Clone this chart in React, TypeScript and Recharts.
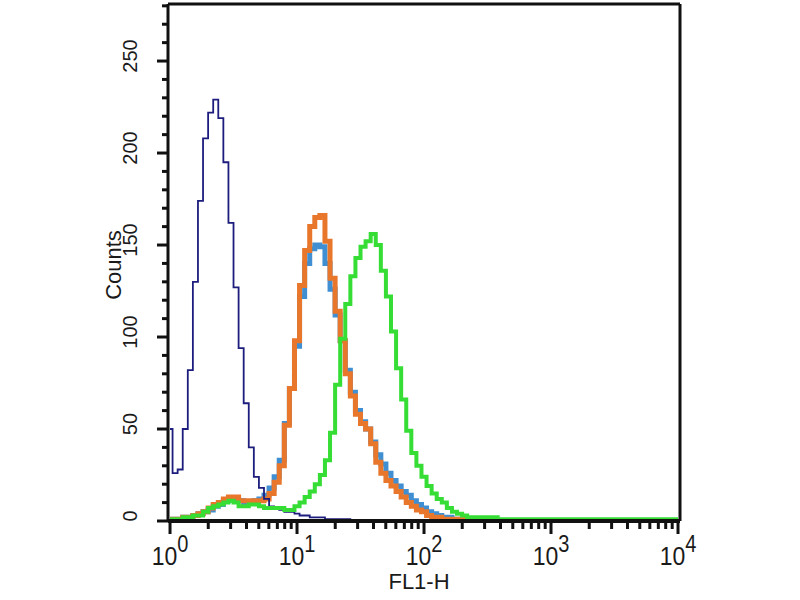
import { LineChart, Line, XAxis, YAxis, ReferenceLine, Label } from "recharts";

// bin positions in decades (log10 of FL1-H)
const binLog = [
  0, 0.04, 0.08, 0.12, 0.16, 0.2, 0.24, 0.28, 0.32, 0.36,
  0.4, 0.44, 0.48, 0.52, 0.56, 0.6, 0.64, 0.68, 0.72, 0.76,
  0.8, 0.84, 0.88, 0.92, 0.96, 1.0, 1.04, 1.08, 1.12, 1.16,
  1.2, 1.24, 1.28, 1.32, 1.36, 1.4, 1.44, 1.48, 1.52, 1.56,
  1.6, 1.64, 1.68, 1.72, 1.76, 1.8, 1.84, 1.88, 1.92, 1.96,
  2.0, 2.04, 2.08, 2.12, 2.16, 2.2, 2.24, 2.28, 2.32, 2.36,
  2.4, 2.44, 2.48, 2.52, 2.56, 2.6,
  2.8, 3.0, 3.2, 3.4, 3.6, 3.8, 4.0,
];

const navyCounts = [
  50, 26, 28, 50, 82, 130, 174, 208, 222, 229,
  219, 195, 162, 127, 94, 64, 40, 24, 18, 12,
  8, 7, 6, 5, 5, 4, 3, 3, 2, 2,
  2, 1, 1, 1, 1, 1, 0, 0, 0, 0,
  0, 0, 0, 0, 0, 0, 0, 0, 0, 0,
  0, 0, 0, 0, 0, 0, 0, 0, 0, 0,
  0, 0, 0, 0, 0, 0,
  0, 0, 0, 0, 0, 0, 0,
];

const blueCounts = [
  0, 1, 1, 2, 2, 3, 4, 5, 6, 8,
  9, 11, 12, 12, 11, 10, 10, 11, 12, 14,
  18, 24, 33, 53, 72, 95, 122, 140, 148, 150,
  149, 140, 126, 112, 98, 82, 70, 60, 54, 50,
  43, 36, 31, 26, 22, 19, 16, 14, 11, 9,
  7, 5, 4, 3, 2, 2, 1, 1, 1, 0,
  0, 0, 0, 0, 0, 0,
  0, 0, 0, 0, 0, 0, 0,
];

const orangeCounts = [
  0, 1, 1, 2, 2, 3, 4, 5, 7, 9,
  10, 12, 13, 13, 11, 11, 11, 11, 11, 12,
  15, 21, 30, 52, 72, 98, 128, 147, 160, 165,
  166, 152, 132, 114, 98, 80, 68, 58, 53, 50,
  42, 32, 26, 22, 19, 16, 13, 10, 8, 6,
  5, 3, 2, 2, 1, 1, 1, 1, 1, 0,
  0, 0, 0, 0, 0, 0,
  0, 0, 0, 0, 0, 0, 0,
];

const greenCounts = [
  1, 1, 1, 2, 2, 3, 3, 5, 7, 8,
  9, 10, 11, 10, 8, 8, 9, 9, 8, 7,
  7, 7, 7, 6, 6, 8, 10, 13, 16, 20,
  25, 33, 48, 74, 99, 118, 133, 143, 149, 152,
  156, 150, 136, 122, 103, 83, 66, 49, 37, 30,
  24, 19, 15, 12, 10, 7, 5, 4, 3, 2,
  2, 2, 2, 2, 2, 1,
  1, 1, 1, 1, 1, 1, 1,
];

const majorXTicks = [1, 10, 100, 1000, 10000];
const minorXTicks = [
  2, 3, 4, 5, 6, 7, 8, 9,
  20, 30, 40, 50, 60, 70, 80, 90,
  200, 300, 400, 500, 600, 700, 800, 900,
  2000, 3000, 4000, 5000, 6000, 7000, 8000, 9000,
];
const yTicks = [
  0, 10, 20, 30, 40, 50, 60, 70, 80, 90, 100, 110, 120, 130, 140,
  150, 160, 170, 180, 190, 200, 210, 220, 230, 240, 250, 260, 270, 280,
];

const X_MIN = 0.964;
const X_MAX = 10368;
const Y_MAX = 281;

const data = binLog.map((lg, i) => ({
  x: Math.pow(10, lg),
  navy: navyCounts[i],
  blue: blueCounts[i],
  orange: orangeCounts[i],
  green: greenCounts[i],
}));

const FONT = "'Liberation Sans', Arial, Helvetica, sans-serif";
const INK = "#111";

const renderXTick = ({ x, y, payload }: any) => {
  const v = payload.value;
  const major = majorXTicks.includes(v);
  const exp = Math.round(Math.log10(v));
  return (
    <g>
      <line x1={x} x2={x} y1={y} y2={y + (major ? 13 : 8)} stroke={INK} strokeWidth={3} />
      {major && (
        <text
          transform={`translate(${x},${y + 44}) scale(1,1.15)`}
          textAnchor="middle"
          fontSize={23}
          fontFamily={FONT}
          fill="#1a1a1a"
        >
          10
          <tspan dy={-11} fontSize={20}>
            {exp}
          </tspan>
        </text>
      )}
    </g>
  );
};

const renderYTick = ({ x, y, payload }: any) => {
  const v = payload.value;
  const major = v % 50 === 0;
  return (
    <g>
      <line x1={x - (major ? 11 : 6)} x2={x} y1={y} y2={y} stroke={INK} strokeWidth={3} />
      {major && (
        <text
          transform={`translate(${x - 38},${y - 5}) rotate(-90)`}
          textAnchor="middle"
          dominantBaseline="central"
          fontSize={20}
          fontFamily={FONT}
          fill="#1a1a1a"
        >
          {v}
        </text>
      )}
    </g>
  );
};

const XTitle = ({ viewBox }: any) => (
  <text
    x={viewBox.x + viewBox.width / 2 - 5}
    y={viewBox.y + 68}
    textAnchor="middle"
    fontSize={22}
    fontFamily={FONT}
    fill="#1a1a1a"
  >
    FL1-H
  </text>
);

const YTitle = ({ viewBox }: any) => (
  <text
    transform={`translate(${viewBox.x + 113},${viewBox.y + 261}) rotate(-90)`}
    textAnchor="middle"
    dominantBaseline="central"
    fontSize={22}
    fontFamily={FONT}
    fill="#1a1a1a"
  >
    Counts
  </text>
);

export default function App() {
  return (
    <div style={{ position: "absolute", left: 0, top: 0, width: 800, height: 600, background: "#fff" }}>
      <LineChart width={800} height={600} data={data} margin={{ top: 4, right: 120, bottom: 0, left: 0 }}>
        <XAxis
          dataKey="x"
          type="number"
          scale="log"
          domain={[X_MIN, X_MAX]}
          allowDataOverflow
          ticks={[...majorXTicks, ...minorXTicks]}
          interval={0}
          tick={renderXTick}
          tickLine={false}
          tickSize={0}
          tickMargin={0}
          height={79}
          axisLine={{ stroke: INK, strokeWidth: 4 }}
        >
          <Label content={<XTitle />} />
        </XAxis>
        <YAxis
          type="number"
          domain={[0, Y_MAX]}
          allowDataOverflow
          ticks={yTicks}
          interval={0}
          tick={renderYTick}
          tickLine={false}
          tickSize={0}
          tickMargin={0}
          width={168}
          axisLine={{ stroke: INK, strokeWidth: 3 }}
        >
          <Label content={<YTitle />} />
        </YAxis>
        <ReferenceLine y={Y_MAX} stroke={INK} strokeWidth={3} />
        <ReferenceLine x={X_MAX} stroke={INK} strokeWidth={3} />
        <Line type="step" dataKey="blue" stroke="#3f8fd2" strokeWidth={5} dot={false} isAnimationActive={false} />
        <Line type="step" dataKey="orange" stroke="#e8772c" strokeWidth={5} dot={false} isAnimationActive={false} />
        <Line type="step" dataKey="navy" stroke="#1d1d7e" strokeWidth={1.8} dot={false} isAnimationActive={false} />
        <Line type="step" dataKey="green" stroke="#35dd35" strokeWidth={4} dot={false} isAnimationActive={false} />
      </LineChart>
    </div>
  );
}
